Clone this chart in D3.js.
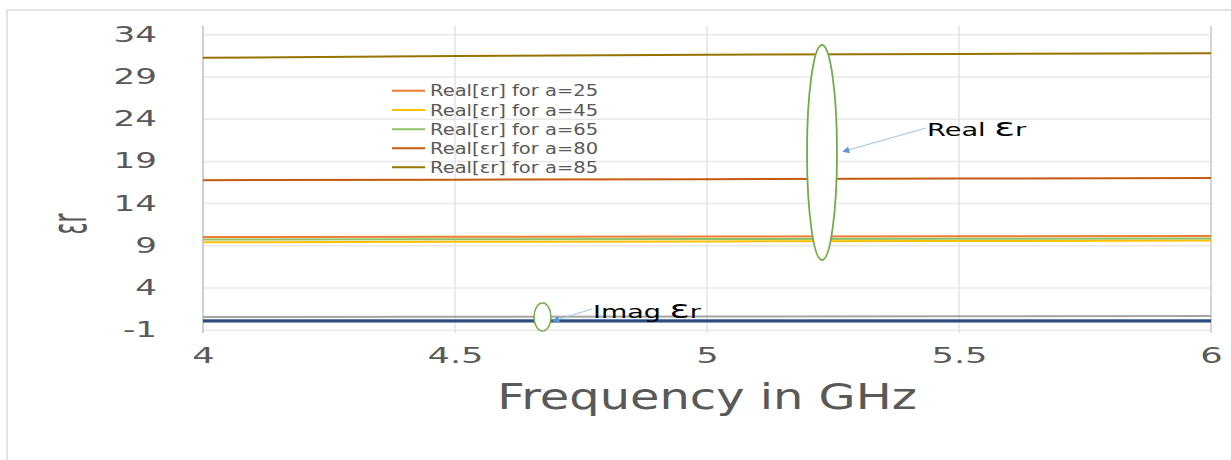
<!DOCTYPE html>
<html>
<head>
<meta charset="utf-8">
<script src="https://cdn.jsdelivr.net/npm/d3@7"></script>
<style>
  html, body { margin: 0; padding: 0; background: #fff; }
  svg { display: block; font-family: "DejaVu Sans", Verdana, sans-serif; }
</style>
</head>
<body>
<svg id="chart" width="1231" height="460"></svg>
<script>
// Frequency sweep (GHz)
const freqs = [4, 4.5, 5, 5.5, 6];

// Real part of relative permittivity for each value of a
const realA25 = [9.99, 10.02, 10.05, 10.08, 10.11];
const realA45 = [9.36, 9.41, 9.46, 9.51, 9.56];
const realA65 = [9.68, 9.71, 9.74, 9.77, 9.80];
const realA80 = [16.72, 16.78, 16.83, 16.90, 16.98];
const realA85 = [31.22, 31.42, 31.57, 31.67, 31.75];

// Imaginary part of relative permittivity for each value of a
const imagA25 = [0.05, 0.05, 0.05, 0.05, 0.05];
const imagA45 = [0.50, 0.53, 0.56, 0.59, 0.62];
const imagA65 = [0.04, 0.04, 0.04, 0.04, 0.04];
const imagA80 = [0.03, 0.03, 0.03, 0.03, 0.03];
const imagA85 = [0.03, 0.03, 0.03, 0.03, 0.03];

const legendLabels = ["Real[εr] for a=25", "Real[εr] for a=45", "Real[εr] for a=65",
                      "Real[εr] for a=80", "Real[εr] for a=85"];
const xTicks = [4, 4.5, 5, 5.5, 6];
const yTicks = [-1, 4, 9, 14, 19, 24, 29, 34];

const realSeries = [
  { values: realA25, color: "#ED7D31" },
  { values: realA45, color: "#FFC000" },
  { values: realA65, color: "#8CC168" },
  { values: realA80, color: "#C55A11" },
  { values: realA85, color: "#997300" }
];
const imagSeries = [
  { values: imagA25, color: "#4472C4" },
  { values: imagA45, color: "#A5A5A5" },
  { values: imagA65, color: "#5B9BD5" },
  { values: imagA80, color: "#264478" },
  { values: imagA85, color: "#2F4B7C" }
];

const svg = d3.select("#chart");
const plot = { left: 203, right: 1211, top: 34.3, bottom: 329.7 };

const x = d3.scaleLinear().domain([4, 6]).range([plot.left, plot.right]);
const y = d3.scaleLinear().domain([-1, 34]).range([plot.bottom, plot.top]);

// widen a text element horizontally by factor k
function stretch(sel, k) {
  sel.each(function () {
    const w = this.getComputedTextLength();
    this.setAttribute("textLength", w * k);
    this.setAttribute("lengthAdjust", "spacingAndGlyphs");
  });
}

// chart frame
svg.append("rect")
  .attr("x", 7).attr("y", 10).attr("width", 1300).attr("height", 500)
  .attr("fill", "none").attr("stroke", "#D9D9D9").attr("stroke-width", 1.5);

// horizontal gridlines + y labels
const yAxis = svg.append("g")
  .attr("transform", `translate(${plot.left},0)`)
  .call(d3.axisLeft(y).tickValues(yTicks).tickFormat(d3.format("d"))
    .tickSize(-(plot.right - plot.left)).tickPadding(46));
yAxis.select(".domain").remove();
yAxis.selectAll(".tick line").attr("stroke", "#E8E8E8").attr("stroke-width", 1.5);
yAxis.selectAll(".tick text")
  .attr("fill", "#595959").attr("font-size", 22)
  .attr("font-family", "DejaVu Sans").text(d => d < 0 ? "-" + Math.abs(d) : d)
  .call(stretch, 1.55);

// vertical gridlines + x labels
const xAxis = svg.append("g")
  .attr("transform", `translate(0,${plot.bottom})`)
  .call(d3.axisBottom(x).tickValues(xTicks).tickFormat(d => d)
    .tickSize(0).tickPadding(19));
xAxis.select(".domain").remove();
xAxis.selectAll(".tick text")
  .attr("fill", "#595959").attr("font-size", 20.5)
  .attr("font-family", "DejaVu Sans")
  .call(stretch, 1.72);

svg.append("g").selectAll("line")
  .data(xTicks)
  .join("line")
  .attr("x1", d => x(d)).attr("x2", d => x(d))
  .attr("y1", 26).attr("y2", 333)
  .attr("stroke", (d, i) => i === 0 ? "#BFBFBF" : (i === xTicks.length - 1 ? "#D4D4D4" : "#E3E3E3"))
  .attr("stroke-width", (d, i) => i === xTicks.length - 1 ? 2 : 1.5);

// series
const line = d3.line().x((d, i) => x(freqs[i])).y(d => y(d));
const lines = svg.append("g").attr("fill", "none").attr("stroke-width", 2);
const allSeries = [];
for (let i = 0; i < 5; i++) { allSeries.push(imagSeries[i]); allSeries.push(realSeries[i]); }
lines.selectAll("path")
  .data(allSeries)
  .join("path")
  .attr("d", d => line(d.values))
  .attr("stroke", d => d.color)
  .attr("stroke-width", d => d.values[0] < 1 && d.color !== "#A5A5A5" ? 2.5 : 2);

// legend
const legend = svg.append("g");
const legendRows = [90.7, 110, 129.3, 148.3, 167.3];
legendLabels.forEach((lab, i) => {
  const g = legend.append("g").attr("transform", `translate(392,${legendRows[i]})`);
  g.append("line").attr("x1", 0).attr("x2", 33).attr("y1", 0).attr("y2", 0)
    .attr("stroke", realSeries[i].color).attr("stroke-width", 2);
  g.append("text").attr("x", 38).attr("y", 5.5)
    .attr("fill", "#595959").attr("font-size", 15).text(lab)
    .call(stretch, 1.3);
});

// y axis title
svg.append("text")
  .attr("transform", "translate(86,224) scale(2.3,1) rotate(-90)")
  .attr("text-anchor", "middle")
  .attr("fill", "#595959").attr("font-size", 22)
  .text("εr");

// x axis title
svg.append("text")
  .attr("x", 707).attr("y", 409)
  .attr("text-anchor", "middle")
  .attr("fill", "#595959").attr("font-size", 36)
  .text("Frequency in GHz")
  .call(stretch, 1.33);

// annotation: real part group
svg.append("ellipse")
  .attr("cx", 822).attr("cy", 152.5).attr("rx", 15).attr("ry", 107.5)
  .attr("fill", "#fff").attr("stroke", "#70AD47").attr("stroke-width", 1.8);

// annotation: imaginary part group
svg.append("ellipse")
  .attr("cx", 542.5).attr("cy", 317).attr("rx", 8.5).attr("ry", 14)
  .attr("fill", "#fff").attr("stroke", "#70AD47").attr("stroke-width", 1.5);

const defs = svg.append("defs");
defs.append("marker")
  .attr("id", "tip").attr("viewBox", "0 0 10 10")
  .attr("refX", 9).attr("refY", 5)
  .attr("markerWidth", 9).attr("markerHeight", 7)
  .attr("markerUnits", "userSpaceOnUse")
  .attr("orient", "auto")
  .append("path").attr("d", "M0,0 L10,5 L0,10 Z").attr("fill", "#5B9BD5");

svg.append("line")
  .attr("x1", 926).attr("y1", 128).attr("x2", 843).attr("y2", 151.5)
  .attr("stroke", "#9DC3E6").attr("stroke-width", 1).attr("marker-end", "url(#tip)");
svg.append("line")
  .attr("x1", 592).attr("y1", 309).attr("x2", 553).attr("y2", 321)
  .attr("stroke", "#9DC3E6").attr("stroke-width", 1).attr("marker-end", "url(#tip)");

const realNote = svg.append("text")
  .attr("x", 927).attr("y", 136).attr("fill", "#000").attr("font-size", 17);
realNote.append("tspan").text("Real ");
realNote.append("tspan").attr("font-size", 24).text("ε");
realNote.append("tspan").text("r");
realNote.call(stretch, 1.6);

const imagNote = svg.append("text")
  .attr("x", 593).attr("y", 318).attr("fill", "#000").attr("font-size", 18);
imagNote.append("tspan").text("Imag ");
imagNote.append("tspan").attr("font-size", 25).text("ε");
imagNote.append("tspan").text("r");
imagNote.call(stretch, 1.5);
</script>
</body>
</html>
